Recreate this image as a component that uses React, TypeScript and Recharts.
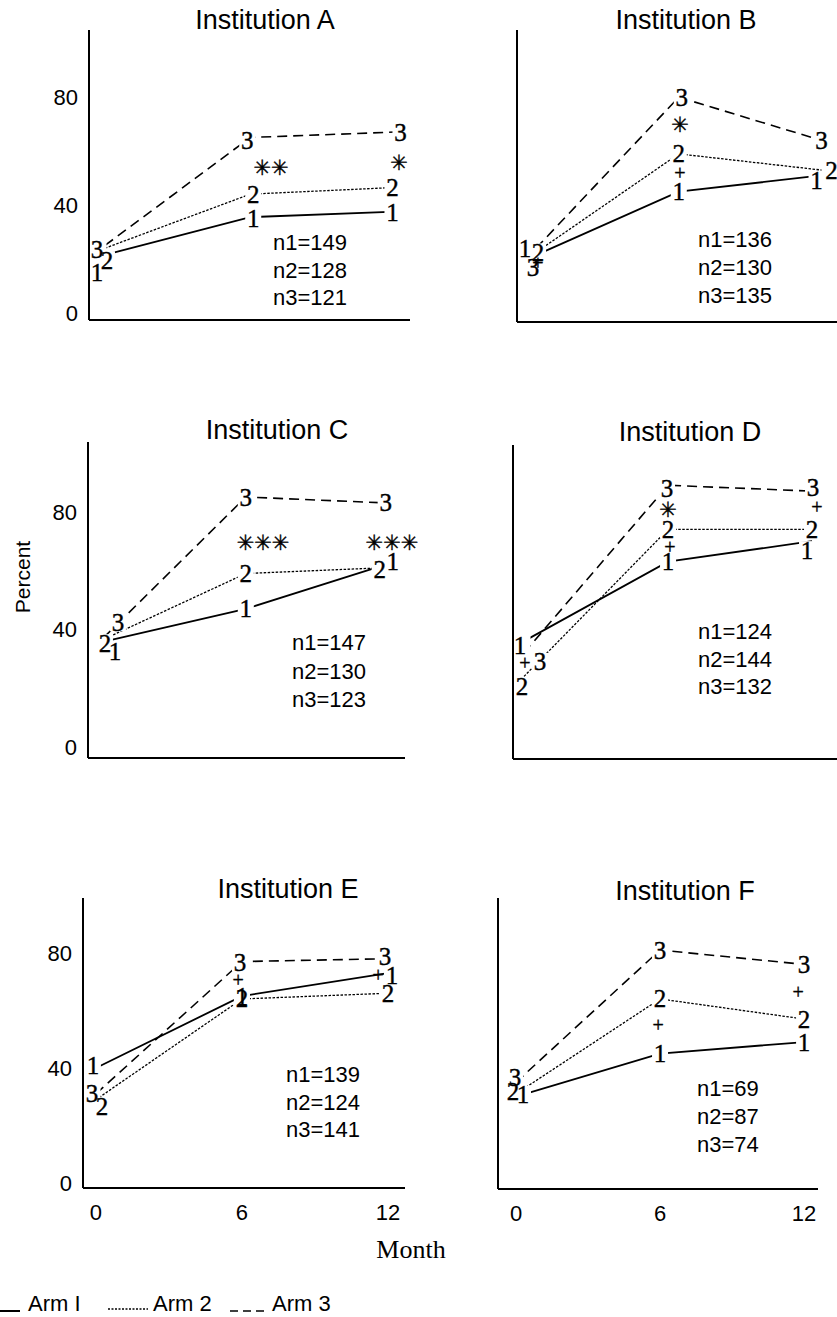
import { Line, LineChart, XAxis, YAxis } from "recharts";

// Percent of patients by arm, months 0 / 6 / 12, one row per institution (A..F)
const institutions = ["A", "B", "C", "D", "E", "F"];
const months = [0, 6, 12];
const arm1Values = [
  [21.5, 35.5, 37.5],
  [21.5, 45, 51],
  [36, 47, 62],
  [36, 63, 70],
  [40, 65, 73],
  [30, 45, 49],
];
const arm2Values = [
  [24, 44, 46.5],
  [22.5, 59, 53],
  [37, 59, 61],
  [24, 74, 74],
  [29, 64, 66],
  [31, 64, 57],
];
const arm3Values = [
  [25, 65, 67],
  [24, 80, 64],
  [38, 85, 83],
  [32, 89, 87],
  [31, 77, 78],
  [35, 81, 76],
];
const sampleSizes = [
  [149, 128, 121],
  [136, 130, 135],
  [147, 130, 123],
  [124, 144, 132],
  [139, 124, 141],
  [69, 87, 74],
];
// significance marks (* p-values, + trend) placed by month / percent
const significance = [
  [
    { month: 6.86, value: 53.7, mark: "✳✳" },
    { month: 12.15, value: 55.6, mark: "✳" },
  ],
  [
    { month: 6.05, value: 69.7, mark: "✳" },
    { month: 6.05, value: 51.9, mark: "+" },
    { month: 0.08, value: 18.5, mark: "+" },
  ],
  [
    { month: 6.74, value: 69.4, mark: "✳✳✳" },
    { month: 12.27, value: 69.4, mark: "✳✳✳" },
  ],
  [
    { month: 6.0, value: 80.6, mark: "✳" },
    { month: 6.08, value: 68, mark: "+" },
    { month: 12.2, value: 81.6, mark: "+" },
    { month: 0.04, value: 28.5, mark: "+" },
  ],
  [
    { month: 5.84, value: 70.6, mark: "+" },
    { month: 11.6, value: 72.3, mark: "+" },
  ],
  [
    { month: 5.92, value: 55, mark: "+" },
    { month: 11.75, value: 66.4, mark: "+" },
  ],
];
const xTicks = [0, 6, 12];
const yTicks = [0, 40, 80];

// layout: plot box [left, top, width, height], axis domains, title centre, n-block
const panels = [
  { plot: [89, 30, 321, 290], x: [-0.66, 12.6], y: [-2.6, 104.8], title: [265, 20], n: [273, 243, 27.5] },
  { plot: [517, 30, 320, 292], x: [-0.8, 12.65], y: [-3.3, 104.9], title: [686, 20], n: [698, 240, 28] },
  { plot: [88, 442, 317, 316], x: [-0.77, 12.83], y: [-3.7, 103.7], title: [277, 430], n: [292, 643, 28.5] },
  { plot: [513, 445, 324, 314], x: [-0.46, 13.04], y: [-4.1, 102.7], title: [690, 432], n: [698, 632, 27.5] },
  { plot: [83, 898, 322, 290], x: [-0.53, 12.7], y: [-1.7, 99.1], title: [288, 889], n: [286, 1075, 27.5] },
  { plot: [498, 898, 320, 291], x: [-0.75, 12.58], y: [-2.1, 99.1], title: [685, 891], n: [697, 1089, 28] },
];

// where the printed arm numbers sit off their point ("arm-index": [dx, dy])
const labelNudges: Record<string, [number, number]>[] = [
  { "1-0": [-8, 18], "2-0": [2, 12], "3-0": [-8, 4], "3-1": [-3, 3], "2-1": [3, 0], "1-1": [3, 1], "3-2": [5, 0], "2-2": [-3, 0], "1-2": [-3, 1] },
  { "1-0": [-11, -7], "2-0": [2, 0], "3-0": [-3, 19], "3-1": [3, 0], "2-2": [10, 0], "1-2": [-5, 5] },
  { "1-0": [9, 10], "2-0": [-1, 5], "3-0": [12, -13], "2-2": [-6, 2], "1-2": [7, -3] },
  { "1-0": [-4, 4], "2-0": [-2, 10], "3-0": [16, 9], "3-1": [-1, 3], "3-2": [1, -4], "1-2": [-5, 9] },
  { "1-0": [-3, -3], "3-0": [-4, 0], "2-0": [6, 7], "3-1": [-2, 1], "1-2": [4, 2], "3-2": [-3, -2] },
  { "1-0": [7, -2], "3-0": [-1, -5], "2-0": [-3, -2] },
];

const arms = [
  { key: "a1", label: "1", dash: undefined, width: 1.8 },
  { key: "a2", label: "2", dash: "2.5 1.5", width: 1.3 },
  { key: "a3", label: "3", dash: "10 6", width: 1.6 },
];

const SANS = '"Liberation Sans", Arial, sans-serif';
const SERIF = '"Liberation Serif", "Times New Roman", serif';
const axisLine = { stroke: "#000", strokeWidth: 2 };
const tickStyle = { fontSize: 22, fill: "#000", fontFamily: SANS };
const Y_AXIS_W = 60;
const RIGHT_PAD = 40;

const digitBg = (label: string, nudges: Record<string, [number, number]>) => (p: any) => {
  const [dx, dy] = nudges[`${label}-${p.index}`] ?? [0, 0];
  const x = Math.max(Y_AXIS_W + 1.5, p.cx + dx - 8);
  return <rect key={`bg${label}-${p.index}`} x={x} y={p.cy + dy - 9} width={16} height={18} fill="#fff" />;
};

const digitText = (label: string, nudges: Record<string, [number, number]>) => (p: any) => {
  const [dx, dy] = nudges[`${label}-${p.index}`] ?? [0, 0];
  return (
    <text
      key={`tx${label}-${p.index}`}
      x={p.cx + dx}
      y={p.cy + dy}
      textAnchor="middle"
      dominantBaseline="central"
      fontFamily={SERIF}
      fontSize={25}
      fill="#000"
      stroke="#000"
      strokeWidth={0.4}
    >
      {label}
    </text>
  );
};

const markDot = (p: any) => {
  const m = p.payload.mark as string;
  const plus = m === "+";
  return (
    <text
      key={`mk${p.index}`}
      x={p.cx}
      y={p.cy}
      textAnchor="middle"
      dominantBaseline="central"
      fontFamily={plus ? SERIF : '"DejaVu Sans", sans-serif'}
      fontSize={plus ? 20 : 21}
      fill="#000"
      stroke="#000"
      strokeWidth={0.4}
    >
      {m}
    </text>
  );
};

function Panel({ i }: { i: number }) {
  const lay = panels[i];
  const [pl, pt, pw, ph] = lay.plot;
  const rows = months.map((m, k) => ({
    month: m,
    a1: arm1Values[i][k],
    a2: arm2Values[i][k],
    a3: arm3Values[i][k],
  }));
  const nudges = labelNudges[i];
  const bottomRow = i >= 4;
  const leftCol = i % 2 === 0;

  return (
    <>
      <div
        style={{
          position: "absolute",
          left: lay.title[0],
          top: lay.title[1],
          transform: "translate(-50%, -50%)",
          fontFamily: SANS,
          fontSize: 27,
          whiteSpace: "nowrap",
          lineHeight: 1,
        }}
      >
        Institution {institutions[i]}
      </div>
      <div style={{ position: "absolute", left: pl - Y_AXIS_W, top: pt }}>
        <LineChart
          width={Y_AXIS_W + pw + RIGHT_PAD}
          height={ph + 40}
          data={rows}
          margin={{ top: 0, right: RIGHT_PAD, bottom: 0, left: 0 }}
        >
          {arms.map((a) => (
            <Line
              key={a.key}
              dataKey={a.key}
              type="linear"
              stroke="#000"
              strokeWidth={a.width}
              strokeDasharray={a.dash}
              dot={false}
              activeDot={false}
              isAnimationActive={false}
            />
          ))}
          {arms.map((a) => (
            <Line
              key={a.key + "bg"}
              dataKey={a.key}
              stroke="none"
              dot={digitBg(a.label, nudges)}
              activeDot={false}
              isAnimationActive={false}
            />
          ))}
          {arms.map((a) => (
            <Line
              key={a.key + "tx"}
              dataKey={a.key}
              stroke="none"
              dot={digitText(a.label, nudges)}
              activeDot={false}
              isAnimationActive={false}
            />
          ))}
          <Line
            data={significance[i]}
            dataKey="value"
            stroke="none"
            dot={markDot}
            activeDot={false}
            isAnimationActive={false}
          />
          <XAxis
            type="number"
            dataKey="month"
            domain={lay.x}
            ticks={xTicks}
            tick={bottomRow ? tickStyle : false}
            tickLine={false}
            tickMargin={10}
            axisLine={axisLine}
            height={40}
          />
          <YAxis
            type="number"
            domain={lay.y}
            ticks={yTicks}
            tick={leftCol ? tickStyle : false}
            tickLine={false}
            tickMargin={5}
            axisLine={axisLine}
            width={Y_AXIS_W}
          />
        </LineChart>
      </div>
      {sampleSizes[i].map((n, k) => (
        <div
          key={k}
          style={{
            position: "absolute",
            left: lay.n[0],
            top: lay.n[1] + k * lay.n[2],
            transform: "translateY(-50%)",
            fontFamily: SANS,
            fontSize: 22,
            lineHeight: 1,
            whiteSpace: "nowrap",
          }}
        >
          n{k + 1}={n}
        </div>
      ))}
    </>
  );
}

export default function App() {
  return (
    <div
      style={{
        position: "absolute",
        left: 0,
        top: 0,
        width: 837,
        height: 1317,
        background: "#fff",
        overflow: "hidden",
        color: "#000",
      }}
    >
      {institutions.map((_, i) => (
        <Panel key={i} i={i} />
      ))}
      <div
        style={{
          position: "absolute",
          left: 22,
          top: 577,
          transform: "translate(-50%, -50%) rotate(-90deg)",
          fontFamily: SANS,
          fontSize: 21,
          lineHeight: 1,
        }}
      >
        Percent
      </div>
      <div
        style={{
          position: "absolute",
          left: 411,
          top: 1250,
          transform: "translate(-50%, -50%)",
          fontFamily: SERIF,
          fontSize: 26,
          lineHeight: 1,
        }}
      >
        Month
      </div>
      <svg style={{ position: "absolute", left: 0, top: 1288 }} width={420} height={29}>
        <line x1={0} x2={20} y1={23} y2={23} stroke="#000" strokeWidth={2} />
        <text x={28} y={23} fontFamily={SANS} fontSize={22}>Arm I</text>
        <line x1={108} x2={148} y1={21} y2={21} stroke="#000" strokeWidth={1.3} strokeDasharray="2 1.5" />
        <text x={153} y={23} fontFamily={SANS} fontSize={22}>Arm 2</text>
        <line x1={230} x2={267} y1={23} y2={23} stroke="#000" strokeWidth={1.6} strokeDasharray="8 5" />
        <text x={272} y={23} fontFamily={SANS} fontSize={22}>Arm 3</text>
      </svg>
    </div>
  );
}
